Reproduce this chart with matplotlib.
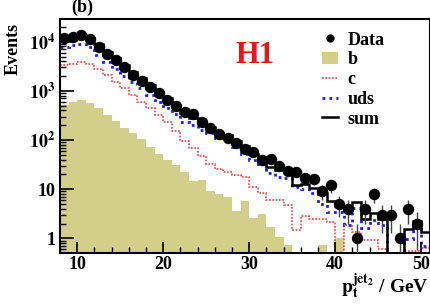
import matplotlib
matplotlib.use('Agg')
import matplotlib.pyplot as plt
from matplotlib.ticker import FixedLocator, MultipleLocator, LogLocator, NullFormatter
from matplotlib.lines import Line2D
from matplotlib.patches import Patch
import numpy as np

plt.rcParams['font.family'] = 'Liberation Serif'
plt.rcParams['font.weight'] = 'bold'
plt.rcParams['mathtext.fontset'] = 'stix'

# 1 GeV bins from 8 to 51 GeV
edges = np.arange(8, 52)

data = [11900, 12500, 13500, 11600, 7800, 5750, 4200, 2990, 2080, 1570, 1200, 885, 646, 495,
        364, 336, 228, 172, 132, 108, 89, 67, 58, 39, 41, 29, 24,
        22, 17, 16, 9, 12, 5, 4, 1, 4, 8, 3, 3, 1, 4, 2, 0]

b = [512, 598, 647, 570, 439, 321, 246, 172, 136, 103, 73, 53, 39, 31,
     22.6, 14.8, 15.3, 9.3, 7.95, 7.0, 3.6, 5.7, 2.6, 3.1, 1.67, 1.08, 0.73,
     0, 0, 0, 0.73, 0, 1.0, 0, 0, 0, 0, 0, 0, 0, 0, 0, 0]

c = [3330, 3600, 3890, 3600, 2850, 2085, 1524, 1119, 818, 581, 439, 321, 234, 150,
     96, 68, 48, 33, 26, 22, 19.4, 18, 11.2, 8.2, 6.0, 6.0, 4.75,
     1.47, 2.88, 2.47, 2.47, 2.17, 0, 1.86, 1.36, 0.92, 0.92, 0.6, 0, 0, 0.55, 0.55, 0.65]

uds = [7840, 8490, 8890, 7840, 5490, 3890, 2850, 2020, 1520, 1120, 818, 581, 439, 331,
       234, 201, 159, 140, 108, 99, 71, 53, 39, 33, 21, 17.8, 17,
       10.9, 9.9, 8.2, 5.1, 3.5, 3.5, 1.86, 4.2, 1.6, 2.4, 1.86, 0, 0, 0.97, 1.7, 0.7]

b = np.array(b, dtype=float)
c = np.array(c, dtype=float)
uds = np.array(uds, dtype=float)
data = np.array(data, dtype=float)
total = b + c + uds

tiny = 1e-3  # stand-in for empty bins on the log axis
def nz(v):
    return np.where(v > 0, v, tiny)

fig = plt.figure(figsize=(4.31, 3.06), dpi=100)
ax = fig.add_axes([0.139, 0.174, 0.858, 0.764])

ax.stairs(nz(b), edges, fill=True, baseline=tiny, color='#d3ce8a', lw=0)
ax.stairs(nz(c), edges, color='#ff3b3b', lw=1.2, ls=(0, (1, 1)), baseline=None)
ax.stairs(nz(uds), edges, color='#1a1aff', lw=2.0, ls=(0, (1, 1.5)), baseline=None)
ax.stairs(nz(total), edges, color='black', lw=1.8, baseline=None)

centres = edges[:-1] + 0.5
m = data > 0
ax.errorbar(centres[m], data[m], yerr=np.sqrt(data[m]), fmt='o', color='black',
            ms=7.2, ecolor='#444444', elinewidth=1.0, capsize=0, zorder=5)

ax.set_xlim(8, 51)
ax.set_ylim(0.51, 2.9e4)
ax.set_yscale('log')

ax.xaxis.set_major_locator(MultipleLocator(10))
ax.xaxis.set_minor_locator(MultipleLocator(2))
ax.yaxis.set_major_locator(FixedLocator([1, 10, 100, 1000, 10000]))
ax.yaxis.set_minor_locator(LogLocator(base=10, subs=np.arange(2, 10)))
ax.yaxis.set_minor_formatter(NullFormatter())
ax.set_yticklabels(['1', '10', r'$\mathbf{10^2}$', r'$\mathbf{10^3}$', r'$\mathbf{10^4}$'])

ax.tick_params(which='both', direction='in', top=False, right=False, labelsize=13)
ax.tick_params(which='major', length=8, width=1.2)
ax.tick_params(which='minor', length=4, width=1.0)
ax.tick_params(axis='y', which='major', length=10)
ax.tick_params(axis='x', pad=2)
for sp in ax.spines.values():
    sp.set_linewidth(1.5)

for lab in ax.get_xticklabels() + ax.get_yticklabels():
    lab.set_fontweight('bold')

fig.text(0.03, 0.925, 'Events', rotation=90, ha='center', va='top',
         fontsize=13, fontweight='bold')
fig.text(0.165, 0.975, '(b)', ha='left', va='center', fontsize=13, fontweight='bold')
ax.text(0.475, 0.845, 'H1', transform=ax.transAxes, color='#e8161b',
        fontsize=22, fontweight='bold', ha='left', va='center')
fig.text(0.995, 0.015, r'$\mathbf{p_t^{jet_2}}$ / GeV', ha='right', va='bottom',
         fontsize=14, fontweight='bold')

handles = [
    Line2D([], [], ls='none', marker='o', color='black', ms=5),
    Patch(facecolor='#d3ce8a', edgecolor='none'),
    Line2D([], [], color='#ff3b3b', lw=1.2, ls=(0, (1, 1))),
    Line2D([], [], color='#1a1aff', lw=2.0, ls=(0, (1, 1.5))),
    Line2D([], [], color='black', lw=1.8),
]
ax.legend(handles, ['Data', 'b', 'c', 'uds', 'sum'], loc='upper left',
          bbox_to_anchor=(0.665, 1.015), frameon=False,
          handlelength=0.9, handletextpad=0.5, labelspacing=0.15,
          prop={'weight': 'bold', 'size': 13})

fig.savefig('out.png', dpi=100)
